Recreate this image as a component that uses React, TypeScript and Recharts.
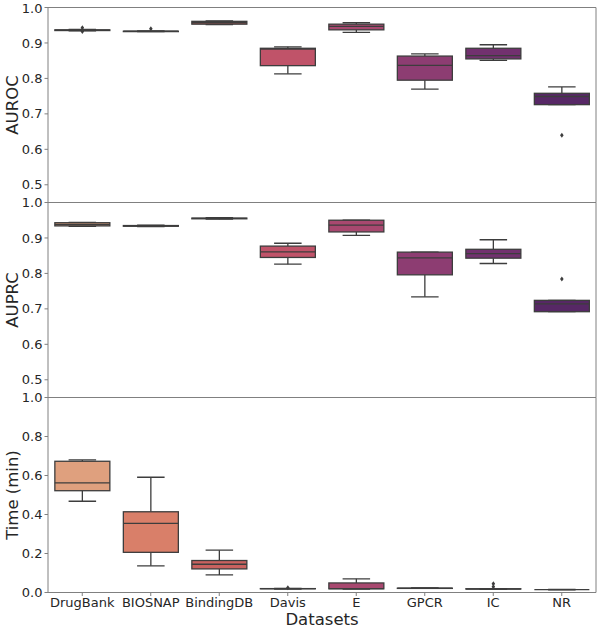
import React from 'react';
import { BarChart, Bar, XAxis, YAxis, CartesianGrid } from 'recharts';

const categories = ['DrugBank', 'BIOSNAP', 'BindingDB', 'Davis', 'E', 'GPCR', 'IC', 'NR'];
const boxColors = ['#dfa07e', '#d97f69', '#c9625f', '#c05369', '#a8486f', '#8d3d72', '#72316f', '#572866'];

// AUROC
const aurocLow = [0.934, 0.932, 0.952, 0.813, 0.930, 0.770, 0.851, 0.726];
const aurocQ1 = [0.935, 0.932, 0.953, 0.836, 0.937, 0.795, 0.855, 0.726];
const aurocMedian = [0.936, 0.933, 0.957, 0.883, 0.947, 0.837, 0.864, 0.749];
const aurocQ3 = [0.937, 0.933, 0.961, 0.885, 0.953, 0.863, 0.885, 0.758];
const aurocHigh = [0.938, 0.934, 0.962, 0.889, 0.957, 0.869, 0.895, 0.776];
const aurocOutliers = [[0.943, 0.932], [0.940], [], [], [], [], [], [0.640]];

// AUPRC
const auprcLow = [0.933, 0.932, 0.953, 0.826, 0.907, 0.734, 0.828, 0.692];
const auprcQ1 = [0.934, 0.933, 0.954, 0.845, 0.917, 0.796, 0.843, 0.692];
const auprcMedian = [0.938, 0.934, 0.955, 0.861, 0.936, 0.844, 0.856, 0.714];
const auprcQ3 = [0.943, 0.935, 0.956, 0.877, 0.950, 0.860, 0.868, 0.724];
const auprcHigh = [0.944, 0.936, 0.957, 0.885, 0.950, 0.860, 0.895, 0.724];
const auprcOutliers = [[], [], [], [], [], [], [], [0.784]];

// Time (min)
const timeLow = [0.468, 0.137, 0.090, 0.018, 0.018, 0.021, 0.017, 0.014];
const timeQ1 = [0.522, 0.206, 0.121, 0.019, 0.019, 0.021, 0.018, 0.015];
const timeMedian = [0.562, 0.355, 0.145, 0.020, 0.020, 0.022, 0.018, 0.015];
const timeQ3 = [0.673, 0.414, 0.164, 0.020, 0.049, 0.022, 0.019, 0.015];
const timeHigh = [0.680, 0.591, 0.217, 0.021, 0.070, 0.023, 0.019, 0.016];
const timeOutliers = [[], [], [], [0.025], [], [], [0.030, 0.045], []];

const scoreTicks = [0.5, 0.6, 0.7, 0.8, 0.9, 1.0];
const timeTicks = [0.0, 0.2, 0.4, 0.6, 0.8, 1.0];

const SPINE = '#808080';
const EDGE = '#3d3d3d';
const TEXT = '#262626';

function buildRows(low: number[], q1: number[], med: number[], q3: number[], high: number[], outl: number[][]) {
  return categories.map((name, i) => {
    const all = [low[i], high[i], ...outl[i]];
    const lo = Math.min(...all);
    const hi = Math.max(...all);
    return {
      name,
      idx: i,
      low: low[i], q1: q1[i], med: med[i], q3: q3[i], high: high[i],
      outliers: outl[i],
      lo, hi,
      range: [lo, hi],
    };
  });
}

const BoxShape = (props: any) => {
  const { x, y, width, height, payload } = props;
  if (!payload) return null;
  const { lo, hi } = payload;
  const py = (v: number) => y + ((hi - v) / (hi - lo)) * height;
  const cx = x + width / 2;
  const capHalf = width / 4;
  const yQ1 = py(payload.q1);
  const yQ3 = py(payload.q3);
  const yMed = py(payload.med);
  const yLow = py(payload.low);
  const yHigh = py(payload.high);
  return (
    <g>
      <line x1={cx} x2={cx} y1={yQ3} y2={yHigh} stroke={EDGE} strokeWidth={1.3} />
      <line x1={cx} x2={cx} y1={yQ1} y2={yLow} stroke={EDGE} strokeWidth={1.3} />
      <line x1={cx - capHalf} x2={cx + capHalf} y1={yHigh} y2={yHigh} stroke={EDGE} strokeWidth={1.3} />
      <line x1={cx - capHalf} x2={cx + capHalf} y1={yLow} y2={yLow} stroke={EDGE} strokeWidth={1.3} />
      <rect x={x} y={yQ3} width={width} height={Math.max(0, yQ1 - yQ3)} fill={boxColors[payload.idx]} stroke={EDGE} strokeWidth={1.3} />
      <line x1={x} x2={x + width} y1={yMed} y2={yMed} stroke={EDGE} strokeWidth={1.3} />
      {payload.outliers.map((o: number, k: number) => {
        const oy = py(o);
        return (
          <polygon key={k} points={`${cx},${oy - 2.5} ${cx + 1.8},${oy} ${cx},${oy + 2.5} ${cx - 1.8},${oy}`} fill={EDGE} />
        );
      })}
    </g>
  );
};

const aurocRows = buildRows(aurocLow, aurocQ1, aurocMedian, aurocQ3, aurocHigh, aurocOutliers);
const auprcRows = buildRows(auprcLow, auprcQ1, auprcMedian, auprcQ3, auprcHigh, auprcOutliers);
const timeRows = buildRows(timeLow, timeQ1, timeMedian, timeQ3, timeHigh, timeOutliers);

type PanelProps = {
  rows: any[];
  top: number;
  height: number;
  mt: number;
  mb: number;
  domain: [number, number];
  ticks: number[];
  label: string;
  showX: boolean;
};

function Panel({ rows, top, height, mt, mb, domain, ticks, label, showX }: PanelProps) {
  return (
    <div style={{ position: 'absolute', left: 0, top, width: 600, height }}>
      <BarChart width={600} height={height} data={rows} margin={{ top: mt, right: 4, bottom: mb, left: 0 }} barCategoryGap="10%">
        <CartesianGrid
          stroke={SPINE}
          strokeWidth={1}
          horizontalCoordinatesGenerator={(p: any) => [p.offset.top]}
          verticalCoordinatesGenerator={(p: any) => [p.offset.left + p.offset.width]}
        />
        <XAxis
          dataKey="name"
          hide={!showX}
          height={showX ? 36.5 : 0}
          interval={0}
          tickSize={3.5}
          tickMargin={1.6}
          axisLine={{ stroke: SPINE }}
          tickLine={{ stroke: SPINE }}
          tick={{ fontSize: 13, fill: TEXT }}
          label={showX ? { value: 'Datasets', position: 'insideBottom', offset: 4, fontSize: 16.5, fill: TEXT } : undefined}
        />
        <YAxis
          type="number"
          domain={domain}
          ticks={ticks}
          allowDataOverflow
          width={48}
          tickSize={3.5}
          tickMargin={2}
          axisLine={{ stroke: SPINE }}
          tickLine={{ stroke: SPINE }}
          tick={{ fontSize: 13, fill: TEXT }}
          tickFormatter={(v: number) => v.toFixed(1)}
          label={{ value: label, angle: -90, position: 'center', dx: -12, fontSize: 16.5, fill: TEXT }}
        />
        <Bar dataKey="range" shape={BoxShape} isAnimationActive={false} />
      </BarChart>
    </div>
  );
}

export default function App() {
  return (
    <div style={{ position: 'absolute', left: 0, top: 0, width: 600, height: 629, background: '#fff', fontFamily: 'DejaVu Sans' }}>
      <Panel rows={aurocRows} top={0} height={203} mt={7.5} mb={0.5} domain={[0.45, 1.0]} ticks={scoreTicks} label="AUROC" showX={false} />
      <Panel rows={auprcRows} top={192} height={206} mt={10.5} mb={0.5} domain={[0.45, 1.0]} ticks={scoreTicks} label="AUPRC" showX={false} />
      <Panel rows={timeRows} top={387} height={242} mt={10.5} mb={0} domain={[0, 1.0]} ticks={timeTicks} label="Time (min)" showX={true} />
    </div>
  );
}
